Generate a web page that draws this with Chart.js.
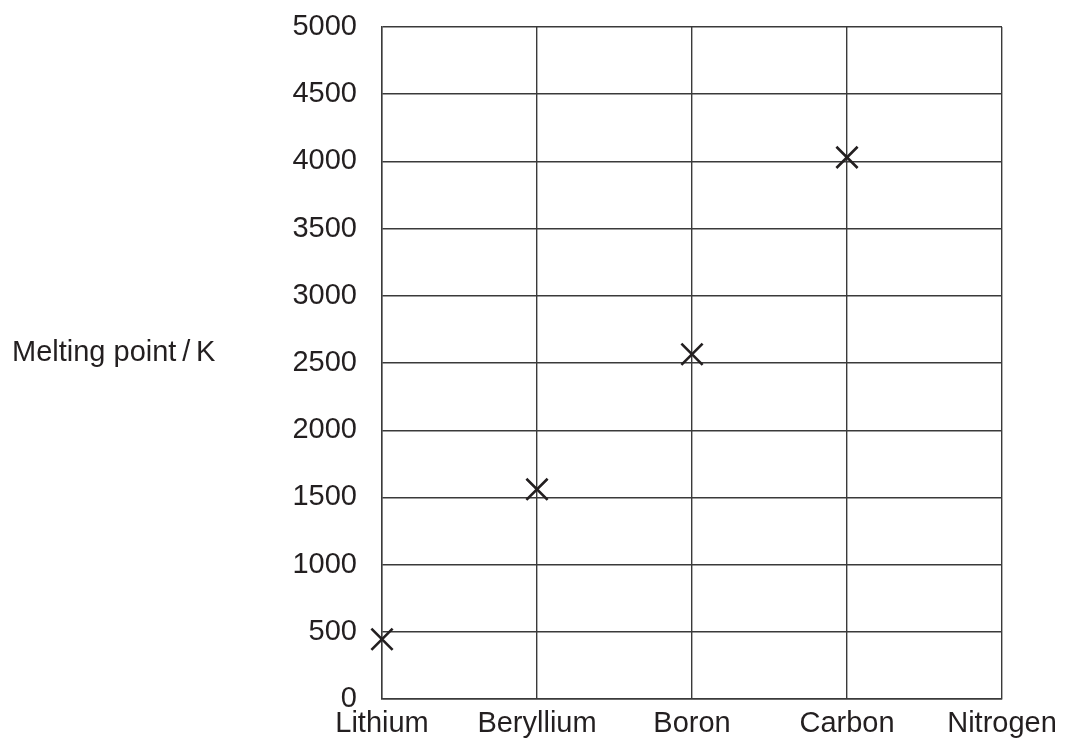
<!DOCTYPE html>
<html>
<head>
<meta charset="utf-8">
<script src="https://cdn.jsdelivr.net/npm/chart.js@4"></script>
<style>
  body { margin: 0; background: #fff; }
  #wrap { width: 1066px; height: 738px; position: relative; }
</style>
</head>
<body>
<div id="wrap"><canvas id="myChart"></canvas></div>
<script>
'use strict';

let elements = ['Lithium', 'Beryllium', 'Boron', 'Carbon', 'Nitrogen'];
let meltingPoints = [445, 1560, 2565, 4030, null];
let yTicks = [0, 500, 1000, 1500, 2000, 2500, 3000, 3500, 4000, 4500, 5000];
let yTitle = 'Melting point\u2009/\u2009K';

let ink = '#231f20';
let gridInk = '#3a3a3a';
let fontName = '"Liberation Sans", Arial, Helvetica, sans-serif';
let fontSize = 29;

// horizontal axis title on the left, like the printed graph
let sideTitle = {
    id: 'sideTitle',
    afterDraw(chart) {
        let ctx = chart.ctx;
        let area = chart.chartArea;
        ctx.save();
        ctx.fillStyle = ink;
        ctx.font = fontSize + 'px ' + fontName;
        ctx.textAlign = 'left';
        ctx.textBaseline = 'middle';
        ctx.fillText(yTitle, 12, (area.top + area.bottom) / 2 - 10);
        ctx.restore();
    }
};

let ctx = document.getElementById('myChart').getContext('2d');
let chart = new Chart(ctx, {
    type: 'line',
    data: {
        labels: elements,
        datasets: [{
            label: 'melting point',
            data: meltingPoints,
            showLine: false,
            pointStyle: 'crossRot',
            pointRadius: 15,
            pointHoverRadius: 15,
            pointBorderWidth: 2.6,
            borderColor: ink,
            backgroundColor: ink
        }]
    },
    options: {
        responsive: true,
        maintainAspectRatio: false,
        animation: false,
        layout: {
            padding: { left: 292, right: 64, top: 27, bottom: 0 }
        },
        plugins: {
            legend: { display: false },
            tooltip: { enabled: false }
        },
        scales: {
            x: {
                type: 'category',
                offset: false,
                grid: { color: gridInk, lineWidth: 1.4, drawTicks: false, offset: false },
                border: { color: gridInk, width: 1.4 },
                ticks: {
                    color: ink,
                    font: { family: fontName, size: fontSize },
                    padding: 8,
                    maxRotation: 0,
                    autoSkip: false
                },
                afterFit: function (s) {
                    s.height = 39;
                    s.paddingLeft = 0;
                    s.paddingRight = 0;
                }
            },
            y: {
                min: 0,
                max: 5000,
                grid: { color: gridInk, lineWidth: 1.4, drawTicks: false },
                border: { color: gridInk, width: 1.4 },
                afterBuildTicks: function (s) {
                    s.ticks = yTicks.map(function (v) { return { value: v }; });
                },
                ticks: {
                    color: ink,
                    font: { family: fontName, size: fontSize },
                    padding: 25,
                    callback: function (v) { return String(v); }
                },
                afterFit: function (s) {
                    s.width = 90;
                    s.paddingTop = 0;
                    s.paddingBottom = 0;
                }
            }
        }
    },
    plugins: [sideTitle]
});
</script>
</body>
</html>
